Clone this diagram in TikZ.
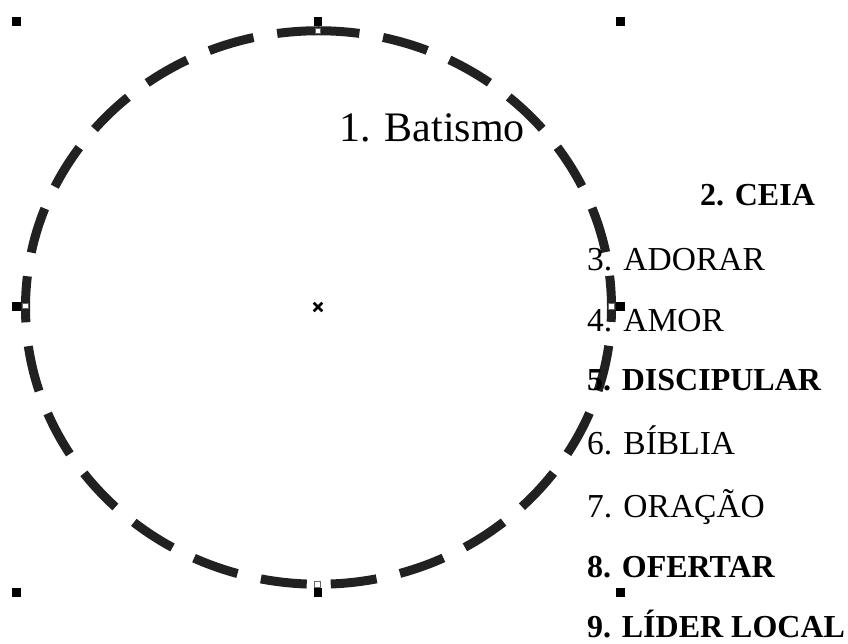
\documentclass[tikz,border=0pt]{standalone}
\usepackage{fontspec}
\setmainfont{Liberation Serif}
\begin{document}
\begin{tikzpicture}[x=1pt,y=-1pt,
  handle/.style={fill=black,draw=none,minimum size=8.5pt,inner sep=0pt,outer sep=0pt},
  anchorpt/.style={fill=white,draw=black!60,line width=0.8pt,minimum size=5.5pt,inner sep=0pt},
  item/.style={anchor=base west,inner sep=0pt,font=\fontsize{33.5}{36}\selectfont},
  bitem/.style={item,font=\fontsize{32}{36}\selectfont\bfseries},
  outline/.style={line width=9pt,color=black!87,dash pattern=on 46.17pt off 24pt,dash phase=5.17pt}]
\useasboundingbox (0,0) rectangle (848,644);
% ellipse, starting at the top, clockwise
\coordinate (ec) at (318.5,307.5);
\draw[outline] (318.5,30.75) arc[start angle=-90, end angle=270, x radius=293, y radius=276.75];
% selection handles
\foreach \x/\y/\n in {16.5/21.5/lt,318/21.5/mt,620.5/21.5/rt,16.5/306.5/lc,620.5/306.5/rc,16.5/592.5/lb,318/592.5/mb,620.5/592.5/rb}
  \node[handle] (h\n) at (\x,\y) {};
% on-path anchors
\node[anchorpt] (pt) at (318,31) {};
\node[anchorpt] (pl) at (25.5,306) {};
\node[anchorpt] (pr) at (611.5,306.5) {};
\node[anchorpt] (pb) at (317.5,584.5) {};
% centre mark
\coordinate (ctr) at (318,307);
\draw[line width=2.6pt] ([shift={(-4.3,-4.3)}]ctr) -- ([shift={(4.3,4.3)}]ctr)
  ([shift={(-4.3,4.3)}]ctr) -- ([shift={(4.3,-4.3)}]ctr);
% texts
\node[item,font=\fontsize{42}{46}\selectfont] (t1) at (339,142) {1. Batismo};
\node[bitem] (t2) at (700,206) {2. CEIA};
\node[item] (t3) at (587,270) {3. ADORAR};
\node[item] (t4) at (587,331) {4. AMOR};
\node[bitem] (t5) at (587,390) {5. DISCIPULAR};
\node[item] (t6) at (587,454) {6. BÍBLIA};
\node[item] (t7) at (587,517) {7. ORAÇÃO};
\node[bitem] (t8) at (587,577) {8. OFERTAR};
\node[bitem] (t9) at (587,637) {9. LÍDER LOCAL};
\end{tikzpicture}
\end{document}
